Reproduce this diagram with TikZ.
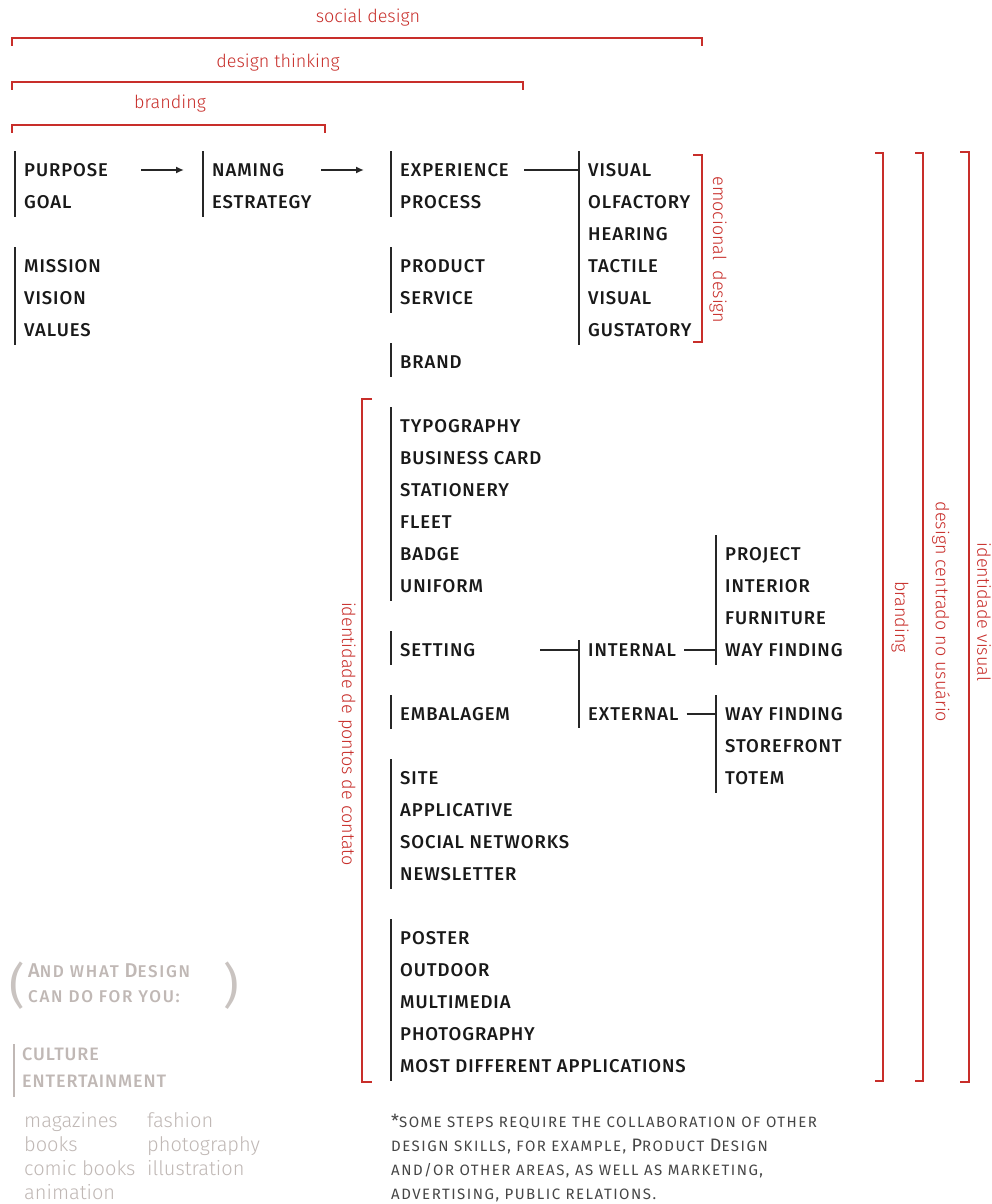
\documentclass[tikz,border=0pt]{standalone}
\usepackage{fontspec}
\setmainfont{Fira Sans}
\newfontfamily\itemfont{Fira Sans Medium}[LetterSpace=5]
\newfontfamily\askfont{Fira Sans Medium}[LetterSpace=10]
\newfontfamily\lightfont{Fira Sans Light}
\newfontfamily\notefont{Fira Sans}[LetterSpace=10]
\usetikzlibrary{arrows.meta, positioning}

\definecolor{brandred}{RGB}{200,46,42}
\definecolor{softgrey}{RGB}{192,184,181}
\definecolor{notegrey}{RGB}{70,70,70}

\newcommand{\groupbar}[2]{\draw[bar] ([shift={(-9pt,12pt)}]#1.north west) -- ([shift={(-9pt,-8pt)}]#2.south west);}
\newcommand{\smc}[1]{{\fontsize{15}{15}\selectfont #1}}
\newcommand{\smcb}[1]{{\fontsize{17}{17}\selectfont #1}}

\begin{document}
\begin{tikzpicture}
    %defining some styles
    [
        x=1pt, y=-1pt,
        item/.style={anchor=west, inner sep=0pt, text height=12.7pt, text depth=0pt, text=black!90, font=\itemfont\fontsize{18.5}{18.5}\selectfont},
        bar/.style={line width=1.7pt, black!85},
        link/.style={line width=1.6pt, black!85},
        flow/.style={line width=1.6pt, black!85, -{Latex[length=8pt, width=7pt]}},
        bracket/.style={line width=1.9pt, brandred},
        redlabel/.style={inner sep=0pt, text=brandred, font=\lightfont\fontsize{18}{18}\selectfont},
        askline/.style={anchor=base west, inner sep=0pt, text=softgrey, font=\askfont\fontsize{20}{20}\selectfont},
        paren/.style={inner sep=0pt, text=softgrey!85, font=\fontsize{48}{48}\selectfont},
        field/.style={anchor=base west, inner sep=0pt, text=softgrey, font=\itemfont\fontsize{18}{18}\selectfont},
        example/.style={anchor=base west, inner sep=0pt, text=softgrey, font=\lightfont\fontsize{20}{20}\selectfont},
        note/.style={anchor=base west, inner sep=0pt, text=notegrey, font=\notefont\fontsize{18}{18}\selectfont},
    ]
    \fill[white] (0,0) rectangle (992,1204);

    % top brackets
    \draw[bracket] (12,46) -- (12,38) -- (702,38) -- (702,46);
    \node (lbsocial) at (368,18) [redlabel] {social design};
    \draw[bracket] (12,90) -- (12,82) -- (523,82) -- (523,90);
    \node (lbthinking) at (278,63) [redlabel] {design thinking};
    \draw[bracket] (12,133) -- (12,125) -- (325,125) -- (325,133);
    \node (lbbranding) at (170,104) [redlabel] {branding};

    % first columns
    \node (purpose) at (24,170) [item] {PURPOSE};
    \node (goal) at (24,202) [item] {GOAL};
    \node (mission) at (24,266) [item] {MISSION};
    \node (vision) at (24,298) [item] {VISION};
    \node (values) at (24,330) [item] {VALUES};
    \node (naming) at (212,170) [item] {NAMING};
    \node (estrategy) at (212,202) [item] {ESTRATEGY};

    \node (experience) at (400,170) [item] {EXPERIENCE};
    \node (process) at (400,202) [item] {PROCESS};
    \node (product) at (400,266) [item] {PRODUCT};
    \node (service) at (400,298) [item] {SERVICE};
    \node (brand) at (400,362) [item] {BRAND};
    \node (typography) at (400,426) [item] {TYPOGRAPHY};
    \node (card) at (400,458) [item] {BUSINESS CARD};
    \node (stationery) at (400,490) [item] {STATIONERY};
    \node (fleet) at (400,522) [item] {FLEET};
    \node (badge) at (400,554) [item] {BADGE};
    \node (uniform) at (400,586) [item] {UNIFORM};
    \node (setting) at (400,650) [item] {SETTING};
    \node (embalagem) at (400,714) [item] {EMBALAGEM};
    \node (site) at (400,778) [item] {SITE};
    \node (applicative) at (400,810) [item] {APPLICATIVE};
    \node (networks) at (400,842) [item] {SOCIAL NETWORKS};
    \node (newsletter) at (400,874) [item] {NEWSLETTER};
    \node (poster) at (400,938) [item] {POSTER};
    \node (outdoor) at (400,970) [item] {OUTDOOR};
    \node (multimedia) at (400,1002) [item] {MULTIMEDIA};
    \node (photo) at (400,1034) [item] {PHOTOGRAPHY};
    \node (applications) at (400,1066) [item] {MOST DIFFERENT APPLICATIONS};

    \node (visual) at (588,170) [item] {VISUAL};
    \node (olfactory) at (588,202) [item] {OLFACTORY};
    \node (hearing) at (588,234) [item] {HEARING};
    \node (tactile) at (588,266) [item] {TACTILE};
    \node (visualb) at (588,298) [item] {VISUAL};
    \node (gustatory) at (588,330) [item] {GUSTATORY};

    \node (internal) at (588,650) [item] {INTERNAL};
    \node (external) at (588,714) [item] {EXTERNAL};

    \node (project) at (725,554) [item] {PROJECT};
    \node (interior) at (725,586) [item] {INTERIOR};
    \node (furniture) at (725,618) [item] {FURNITURE};
    \node (wayin) at (725,650) [item] {WAY FINDING};
    \node (wayout) at (725,714) [item] {WAY FINDING};
    \node (storefront) at (725,746) [item] {STOREFRONT};
    \node (totem) at (725,778) [item] {TOTEM};

    % group bars
    \groupbar{purpose}{goal}
    \groupbar{mission}{values}
    \groupbar{naming}{estrategy}
    \groupbar{experience}{process}
    \groupbar{product}{service}
    \groupbar{brand}{brand}
    \groupbar{typography}{uniform}
    \groupbar{setting}{setting}
    \groupbar{embalagem}{embalagem}
    \groupbar{site}{newsletter}
    \groupbar{poster}{applications}
    \groupbar{visual}{gustatory}
    \groupbar{project}{wayin}
    \groupbar{wayout}{totem}
    \draw[bar] ([shift={(-9pt,3pt)}]internal.north west) -- ([shift={(-9pt,-7pt)}]external.south west);

    % connectors
    \coordinate (flowa) at (141,170);
    \coordinate (flowb) at (321,170);
    \coordinate (senses) at (524,170);
    \coordinate (place) at (540,650);
    \draw[flow] (flowa) -- ([xshift=-28pt]naming.west);
    \draw[flow] (flowb) -- ([xshift=-36pt]experience.west);
    \draw[link] (senses) -- ([xshift=-9pt]visual.west);
    \draw[link] (place) -- ([xshift=-9pt]internal.west);
    \draw[link] ([xshift=8pt]internal.east) -- ([xshift=-9pt]wayin.west);
    \draw[link] ([xshift=8pt]external.east) -- ([xshift=-9pt]wayout.west);

    % side brackets
    \draw[bracket] (693,155) -- (702,155) -- (702,342) -- (693,342);
    \node (lbemotion) at (718,250) [redlabel, rotate=-90] {emocional\ \ design};
    \draw[bracket] (372,399) -- (362,399) -- (362,1082) -- (372,1082);
    \node (lbcontact) at (347,734) [redlabel, rotate=-90] {identidade de pontos de contato};
    \draw[bracket] (875,153) -- (883,153) -- (883,1081) -- (875,1081);
    \node (lbrandv) at (900,617) [redlabel, rotate=-90] {branding};
    \draw[bracket] (915,153) -- (923,153) -- (923,1081) -- (915,1081);
    \node (lbcentered) at (941,612) [redlabel, rotate=-90] {design centrado no usuário};
    \draw[bracket] (960,152) -- (969,152) -- (969,1082) -- (960,1082);
    \node (lbidentity) at (984,612) [redlabel, rotate=-90] {identidade visual};

    % what design can do
    \node (openparen) at (17,986) [paren] {(};
    \node (closeparen) at (231,986) [paren] {)};
    \node (askone) at (28,977) [askline] {A\smcb{ND WHAT }D\smcb{ESIGN}};
    \node (asktwo) at (28,1002) [askline] {\smcb{CAN DO FOR YOU:}};
    \node (culture) at (22,1060) [field] {CULTURE};
    \node (entertainment) at (22,1087) [field] {ENTERTAINMENT};
    \draw[bar, softgrey, line width=1.5pt] ([shift={(-8pt,3pt)}]culture.north west) -- ([shift={(-8pt,-10pt)}]entertainment.south west);
    \node (magazines) at (24,1127) [example] {magazines};
    \node (books) at (24,1151) [example] {books};
    \node (comics) at (24,1175) [example] {comic books};
    \node (animation) at (24,1199) [example] {animation};
    \node (fashion) at (147,1127) [example] {fashion};
    \node (photography) at (147,1151) [example] {photography};
    \node (illustration) at (147,1175) [example] {illustration};

    % footnote
    \node (noteone) at (391,1127) [note] {*\smc{SOME STEPS REQUIRE THE COLLABORATION OF OTHER}};
    \node (notetwo) at (391,1151) [note] {\smc{DESIGN SKILLS, FOR EXAMPLE, }P\smc{RODUCT }D\smc{ESIGN}};
    \node (notethree) at (391,1175) [note] {\smc{AND/OR OTHER AREAS, AS WELL AS MARKETING,}};
    \node (notefour) at (391,1199) [note] {\smc{ADVERTISING, PUBLIC RELATIONS.}};
\end{tikzpicture}
\end{document}
